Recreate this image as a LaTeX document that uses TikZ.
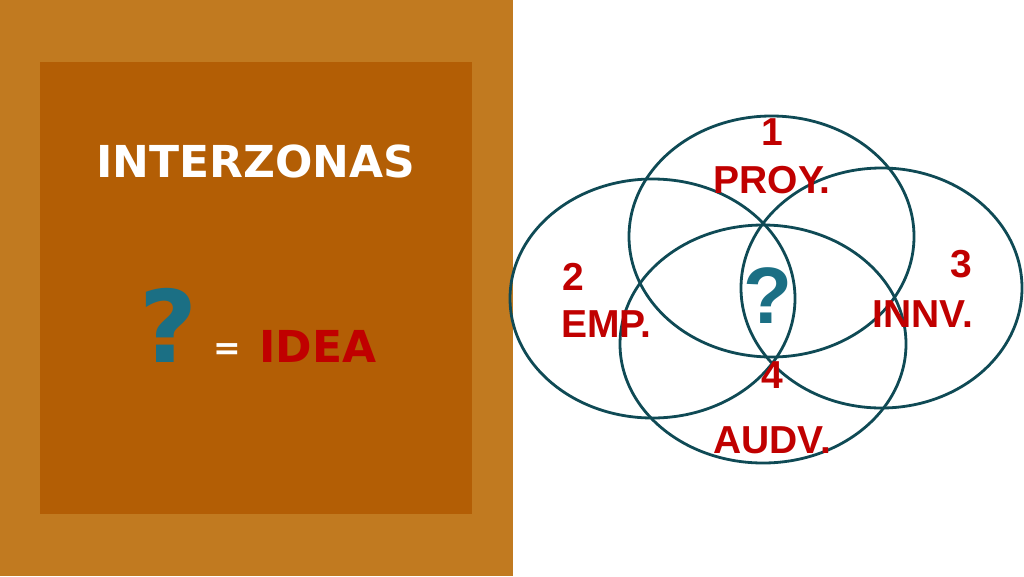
\documentclass[tikz,border=0pt]{standalone}
\usepackage{fontspec}
\usepackage{xcolor}
\usepackage{tikz}
\usetikzlibrary{positioning,calc}
\newfontfamily\dejafont{DejaVu Sans}
\newfontfamily\arialfont{Liberation Sans}
\definecolor{outerbrown}{HTML}{C17A20}
\definecolor{innerbrown}{HTML}{B35E05}
\definecolor{labelred}{HTML}{C00000}
\definecolor{qteal}{HTML}{1B6F84}
\definecolor{ringteal}{HTML}{0F4A55}

\begin{document}
\begin{tikzpicture}[x=1pt,y=-1pt,
  ring/.style={ringteal,line width=2.8pt},
  zonelabel/.style={inner sep=0pt,color=labelred,font=\arialfont\bfseries\fontsize{39}{39}\selectfont}]
  \useasboundingbox (0,0) rectangle (1024,576);

  % Panels
  \fill[white] (0,0) rectangle (1024,576);
  \fill[outerbrown] (0,0) rectangle (513,576);
  \fill[innerbrown] (40,62) rectangle (472,514);

  % Title and legend
  \node[inner sep=0pt,anchor=base,color=white,font=\dejafont\bfseries\fontsize{44}{44}\selectfont] (title) at (256,177) {INTERZONAS};
  \node[inner sep=0pt,anchor=base,color=qteal,font=\dejafont\bfseries\fontsize{100}{100}\selectfont] (qmark) at (169,362) {?};
  \node[inner sep=0pt,anchor=base,color=white,font=\dejafont\bfseries\fontsize{33}{33}\selectfont] (equals) at (227,359) {=};
  \node[inner sep=0pt,anchor=base west,color=labelred,font=\dejafont\bfseries\fontsize{44}{44}\selectfont] (idea) at (259,362) {IDEA};

  % Draw the four zones
  \foreach \cx/\cy/\rx/\ry in {771.5/236.5/142.5/120.5, 652.5/298.5/142.5/119.5, 881.5/288/140.5/120, 763/344/143/119} {
    \draw[ring] (\cx,\cy) ellipse [x radius=\rx, y radius=\ry];
  }

  % Zone labels
  \node[zonelabel,anchor=base] (num1) at (772,145) {1};
  \node[zonelabel,anchor=base] (proy) at (772,193) {PROY.};
  \node[zonelabel,anchor=base west] (num2) at (562,290) {2};
  \node[zonelabel,anchor=base west] (emp) at (561,337) {EMP.};
  \node[zonelabel,anchor=base east] (num3) at (972,277) {3};
  \node[zonelabel,anchor=base east] (innv) at (973,327) {INNV.};
  \node[zonelabel,anchor=base] (num4) at (772,388) {4};
  \node[zonelabel,anchor=base] (audv) at (772,453) {AUDV.};

  % Center question mark
  \node[inner sep=0pt,anchor=base,color=qteal,font=\arialfont\bfseries\fontsize{80}{80}\selectfont] (center) at (768,323) {?};
\end{tikzpicture}
\end{document}
